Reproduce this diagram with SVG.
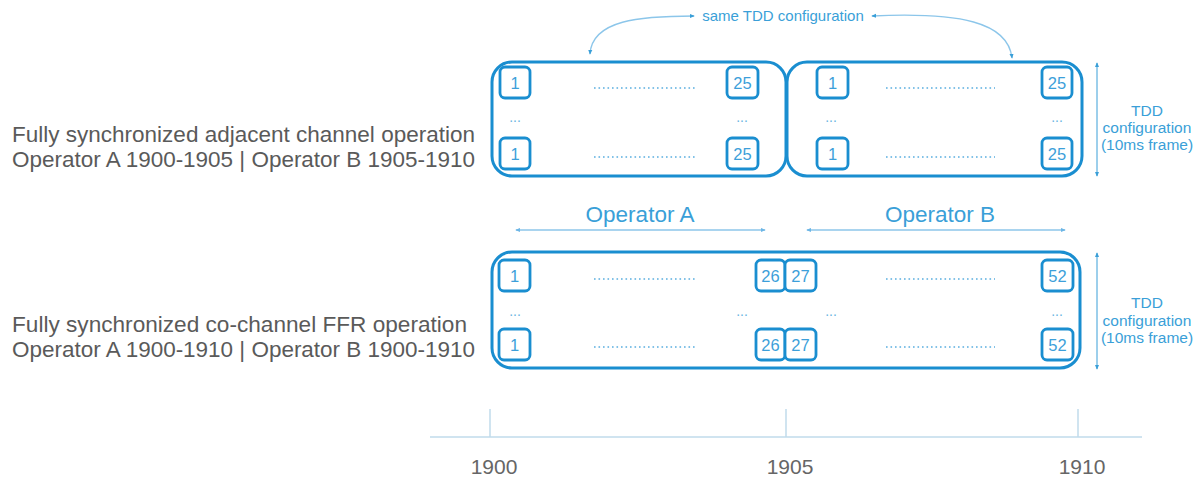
<svg xmlns="http://www.w3.org/2000/svg" width="1202" height="479" viewBox="0 0 1202 479">
<defs>
<marker id="ah" viewBox="0 0 6 6" refX="5" refY="3" markerWidth="5" markerHeight="5" orient="auto-start-reverse" markerUnits="userSpaceOnUse">
<path d="M0,0.5 L6,3 L0,5.5 z" fill="#3a9fd8"/>
</marker>
<marker id="ahl" viewBox="0 0 6 6" refX="5" refY="3" markerWidth="5" markerHeight="5" orient="auto-start-reverse" markerUnits="userSpaceOnUse">
<path d="M0,0.5 L6,3 L0,5.5 z" fill="#6db6e6"/>
</marker>
</defs>
<style>
.outer{fill:none;stroke:#1a8ed0;stroke-width:3}
.cell{fill:#fff;stroke:#1a8ed0;stroke-width:2.8}
.cl{font-family:"Liberation Sans",Arial,sans-serif;font-size:16.5px;fill:#3d9fda;text-anchor:middle}
.dots{stroke:#5aaee0;stroke-width:1.6;stroke-dasharray:1.6 2.9;fill:none}
.ell{font-family:"Liberation Sans",Arial,sans-serif;font-size:14px;fill:#6ab4e2;text-anchor:middle}
.lbl{font-family:"Liberation Sans",Arial,sans-serif;font-size:22.5px;fill:#5a5a5a}
.tdd{font-family:"Liberation Sans",Arial,sans-serif;font-size:15.5px;fill:#3a9fd8;text-anchor:middle}
.same{font-family:"Liberation Sans",Arial,sans-serif;font-size:15px;fill:#3a9fd8;text-anchor:middle}
.op{font-family:"Liberation Sans",Arial,sans-serif;font-size:22.5px;fill:#3a9fd8;text-anchor:middle}
.yr{font-family:"Liberation Sans",Arial,sans-serif;font-size:21px;fill:#666;text-anchor:middle}
.conn{fill:none;stroke:#3a9fd8;stroke-width:1}
.connl{fill:none;stroke:#8cc6ea;stroke-width:1.3}
.axis{stroke:#c0dbeb;stroke-width:1.5;fill:none}
</style>

<g id="labels">
<text class="lbl" x="12" y="142" textLength="463" lengthAdjust="spacingAndGlyphs">Fully synchronized adjacent channel operation</text>
<text class="lbl" x="12" y="167" textLength="463" lengthAdjust="spacingAndGlyphs">Operator A 1900-1905 | Operator B 1905-1910</text>
<text class="lbl" x="12" y="332" textLength="455" lengthAdjust="spacingAndGlyphs">Fully synchronized co-channel FFR operation</text>
<text class="lbl" x="12" y="357" textLength="463" lengthAdjust="spacingAndGlyphs">Operator A 1900-1910 | Operator B 1900-1910</text>
</g>

<g id="top-a">
<rect class="outer" x="492" y="62" width="294" height="114" rx="20"/>
<rect class="cell" x="500" y="67" width="30" height="31" rx="5"/><text class="cl" x="515" y="89">1</text>
<rect class="cell" x="727" y="67" width="31" height="31" rx="5"/><text class="cl" x="742.5" y="89">25</text>
<rect class="cell" x="500" y="138" width="30" height="31" rx="5"/><text class="cl" x="515" y="160">1</text>
<rect class="cell" x="727" y="138" width="31" height="31" rx="5"/><text class="cl" x="742.5" y="160">25</text>
<line class="dots" x1="594" y1="88" x2="697" y2="88"/>
<line class="dots" x1="594" y1="157" x2="697" y2="157"/>
<text class="ell" x="515" y="122">...</text>
<text class="ell" x="742" y="122">...</text>
</g>

<g id="top-b">
<rect class="outer" x="787" y="62" width="295" height="114" rx="20"/>
<rect class="cell" x="817" y="67" width="31" height="31" rx="5"/><text class="cl" x="832.5" y="89">1</text>
<rect class="cell" x="1042" y="67" width="30" height="31" rx="5"/><text class="cl" x="1057" y="89">25</text>
<rect class="cell" x="817" y="138" width="31" height="31" rx="5"/><text class="cl" x="832.5" y="160">1</text>
<rect class="cell" x="1042" y="138" width="30" height="31" rx="5"/><text class="cl" x="1057" y="160">25</text>
<line class="dots" x1="886" y1="88" x2="995" y2="88"/>
<line class="dots" x1="886" y1="157" x2="995" y2="157"/>
<text class="ell" x="831" y="122">...</text>
<text class="ell" x="1057" y="122">...</text>
</g>

<g id="bottom">
<rect class="outer" x="492" y="252" width="588" height="116" rx="20"/>
<rect class="cell" x="499" y="260" width="31" height="31" rx="5"/><text class="cl" x="514.5" y="282">1</text>
<rect class="cell" x="756" y="260" width="29" height="31" rx="5"/><text class="cl" x="770.5" y="282">26</text>
<rect class="cell" x="785" y="260" width="31" height="31" rx="5"/><text class="cl" x="800.5" y="282">27</text>
<rect class="cell" x="1042" y="260" width="31" height="31" rx="5"/><text class="cl" x="1057.5" y="282">52</text>
<rect class="cell" x="499" y="329" width="31" height="31" rx="5"/><text class="cl" x="514.5" y="351">1</text>
<rect class="cell" x="756" y="329" width="29" height="31" rx="5"/><text class="cl" x="770.5" y="351">26</text>
<rect class="cell" x="785" y="329" width="31" height="31" rx="5"/><text class="cl" x="800.5" y="351">27</text>
<rect class="cell" x="1042" y="329" width="31" height="31" rx="5"/><text class="cl" x="1057.5" y="351">52</text>
<line class="dots" x1="594" y1="279" x2="697" y2="279"/>
<line class="dots" x1="594" y1="347" x2="697" y2="347"/>
<line class="dots" x1="886" y1="279" x2="995" y2="279"/>
<line class="dots" x1="886" y1="347" x2="995" y2="347"/>
<text class="ell" x="515" y="316">...</text>
<text class="ell" x="742" y="316">...</text>
<text class="ell" x="831" y="316">...</text>
<text class="ell" x="1057" y="316">...</text>
</g>

<g id="same-tdd">
<text class="same" x="783" y="21">same TDD configuration</text>
</g>
<g id="tdd-top">
<text class="tdd" x="1147" y="116">TDD</text>
<text class="tdd" x="1147" y="133">configuration</text>
<text class="tdd" x="1147" y="150">(10ms frame)</text>
</g>
<g id="tdd-bottom">
<text class="tdd" x="1147" y="308">TDD</text>
<text class="tdd" x="1147" y="326">configuration</text>
<text class="tdd" x="1147" y="343">(10ms frame)</text>
</g>
<g id="operators">
<text class="op" x="640" y="222">Operator A</text>
<text class="op" x="940" y="222">Operator B</text>
</g>

<g id="connectors">
<path class="connl" d="M694,16 C640,16 592,20 590,54" marker-start="url(#ah)" marker-end="url(#ah)"/>
<path class="connl" d="M872,16 C960,12 1008,22 1012,58" marker-start="url(#ah)" marker-end="url(#ah)"/>
<line class="conn" x1="1097" y1="63" x2="1097" y2="176" marker-start="url(#ah)" marker-end="url(#ah)"/>
<line class="conn" x1="1097" y1="253" x2="1097" y2="369" marker-start="url(#ah)" marker-end="url(#ah)"/>
<line class="connl" x1="516" y1="230" x2="765" y2="230" marker-start="url(#ahl)" marker-end="url(#ahl)"/>
<line class="connl" x1="807" y1="230" x2="1065" y2="230" marker-start="url(#ahl)" marker-end="url(#ahl)"/>
</g>

<g id="timeline">
<line class="axis" x1="430" y1="437" x2="1142" y2="437"/>
<line class="axis" x1="490" y1="409" x2="490" y2="437"/>
<line class="axis" x1="786" y1="409" x2="786" y2="437"/>
<line class="axis" x1="1078" y1="409" x2="1078" y2="437"/>
<text class="yr" x="494" y="474">1900</text>
<text class="yr" x="790" y="474">1905</text>
<text class="yr" x="1082" y="474">1910</text>
</g>
</svg>
